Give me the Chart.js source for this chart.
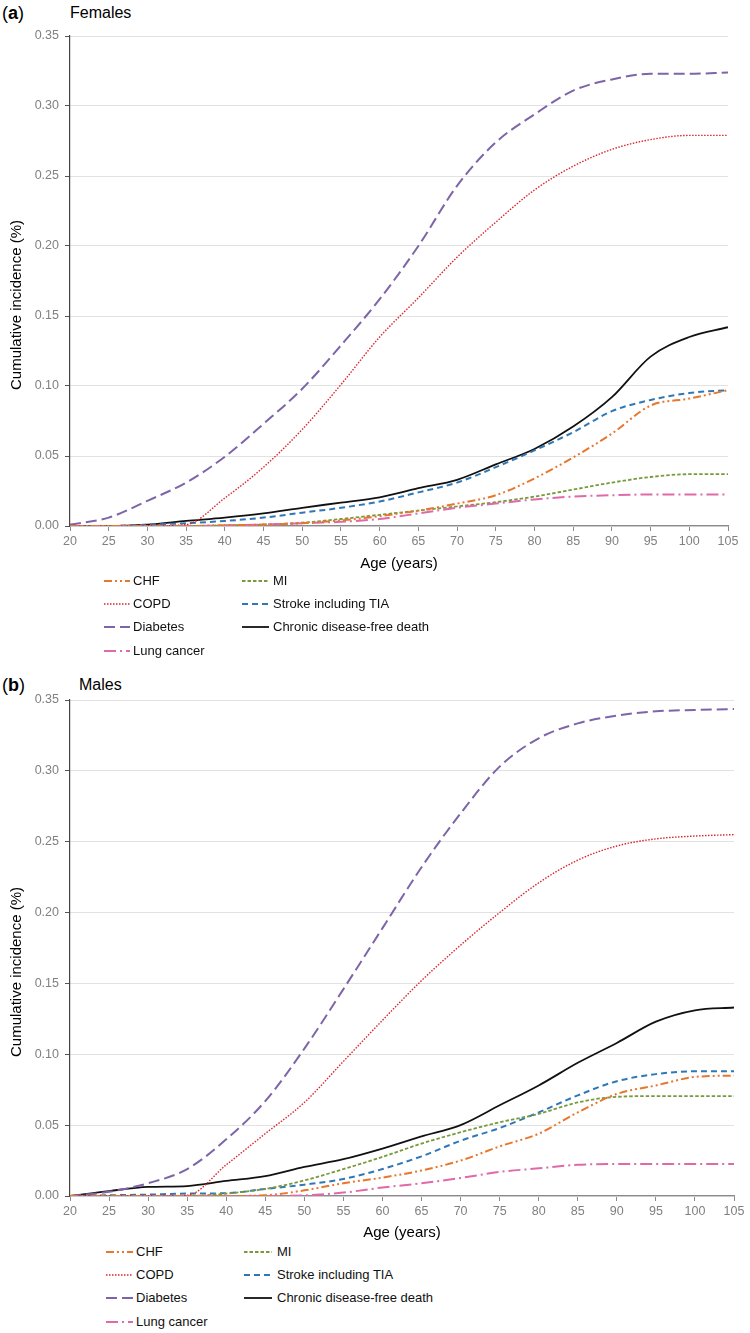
<!DOCTYPE html>
<html>
<head>
<meta charset="utf-8">
<script src="https://cdn.jsdelivr.net/npm/chart.js@4.4.1/dist/chart.umd.min.js"></script>
<style>
  body { margin: 0; background: #fff; font-family: "Liberation Sans", Arial, sans-serif; }
  #page { position: relative; width: 750px; height: 1333px; overflow: hidden; }
  canvas { position: absolute; left: 0; }
  .tag { position: absolute; left: 2px; font-size: 18px; line-height: 20px; color: #000; }
  .ptitle { position: absolute; font-size: 16px; line-height: 20px; color: #000; }
  .leg { position: absolute; font-size: 13px; line-height: 16px; color: #111; white-space: nowrap; }
  .legline { position: absolute; }
</style>
</head>
<body>
<div id="page">
  <div class="tag" style="top:3px">(<b>a</b>)</div>
  <div class="ptitle" style="top:3px; left:70px">Females</div>
  <canvas id="chartFemales"></canvas>
  <div class="tag" style="top:675px">(<b>b</b>)</div>
  <div class="ptitle" style="top:675px; left:79px">Males</div>
  <canvas id="chartMales"></canvas>
</div>
<script>
// age in years (x axis)
const ages = [20, 25, 30, 35, 40, 45, 50, 55, 60, 65, 70, 75, 80, 85, 90, 95, 100, 105];
const xTicks = [20, 25, 30, 35, 40, 45, 50, 55, 60, 65, 70, 75, 80, 85, 90, 95, 100, 105];
const yTicks = [0, 0.05, 0.10, 0.15, 0.20, 0.25, 0.30, 0.35];

const seriesNames = ['CHF', 'COPD', 'Diabetes', 'Lung cancer', 'MI', 'Stroke including TIA', 'Chronic disease-free death'];

// (a) Females
const femCHF      = [0, 0, 0, 0, 0.0005, 0.001, 0.002, 0.004, 0.007, 0.011, 0.016, 0.022, 0.034, 0.049, 0.066, 0.086, 0.091, 0.097];
const femCOPD     = [0, 0, 0, 0.001, 0.020, 0.042, 0.069, 0.101, 0.135, 0.163, 0.192, 0.217, 0.240, 0.257, 0.269, 0.276, 0.279, 0.279];
const femDiabetes = [0.001, 0.006, 0.018, 0.031, 0.0495, 0.073, 0.098, 0.129, 0.162, 0.200, 0.243, 0.274, 0.294, 0.311, 0.319, 0.323, 0.323, 0.324];
const femLung     = [0, 0, 0, 0, 0.0003, 0.001, 0.002, 0.003, 0.005, 0.009, 0.013, 0.016, 0.019, 0.021, 0.022, 0.0225, 0.0225, 0.0225];
const femMI       = [0, 0, 0, 0, 0.0005, 0.001, 0.0024, 0.005, 0.008, 0.011, 0.014, 0.017, 0.021, 0.026, 0.031, 0.035, 0.037, 0.037];
const femStroke   = [0, 0, 0.001, 0.002, 0.0036, 0.006, 0.0095, 0.013, 0.0175, 0.024, 0.031, 0.042, 0.054, 0.067, 0.082, 0.090, 0.095, 0.097];
const femDeath    = [0, 0, 0.001, 0.0036, 0.006, 0.009, 0.013, 0.0167, 0.0205, 0.027, 0.033, 0.044, 0.055, 0.071, 0.092, 0.121, 0.135, 0.142];

// (b) Males
const malCHF      = [0, 0, 0, 0, 0, 0.0005, 0.004, 0.009, 0.013, 0.018, 0.025, 0.035, 0.044, 0.059, 0.072, 0.078, 0.084, 0.085];
const malCOPD     = [0, 0, 0, 0.0005, 0.022, 0.044, 0.066, 0.095, 0.124, 0.152, 0.177, 0.200, 0.221, 0.237, 0.247, 0.252, 0.254, 0.255];
const malDiabetes = [0, 0.003, 0.009, 0.019, 0.040, 0.067, 0.104, 0.146, 0.189, 0.232, 0.270, 0.303, 0.323, 0.3335, 0.339, 0.342, 0.343, 0.3436];
const malLung     = [0, 0, 0, 0, 0, 0, 0.0005, 0.0024, 0.006, 0.009, 0.0127, 0.017, 0.0195, 0.022, 0.0225, 0.0225, 0.0225, 0.0225];
const malMI       = [0, 0, 0, 0, 0.0017, 0.005, 0.011, 0.019, 0.0276, 0.037, 0.045, 0.052, 0.058, 0.066, 0.070, 0.0705, 0.0705, 0.0705];
const malStroke   = [0, 0.0005, 0.001, 0.0017, 0.002, 0.005, 0.008, 0.012, 0.019, 0.028, 0.039, 0.048, 0.059, 0.071, 0.081, 0.086, 0.088, 0.088];
const malDeath    = [0, 0.0035, 0.0064, 0.007, 0.0106, 0.014, 0.0205, 0.026, 0.0335, 0.042, 0.050, 0.064, 0.078, 0.094, 0.108, 0.123, 0.131, 0.133];

const femalesSeries = [femCHF, femCOPD, femDiabetes, femLung, femMI, femStroke, femDeath];
const malesSeries = [malCHF, malCOPD, malDiabetes, malLung, malMI, malStroke, malDeath];

// line look for each series, same order as seriesNames
const lineColors = ['#E8772E', '#D9262E', '#7E65A8', '#E06AA8', '#779A3C', '#2F78B8', '#111111'];
const lineDashes = [[8, 3, 2, 3, 2, 3], [1.5, 1.5], [11, 5], [12, 4, 2, 4], [3.5, 2], [6, 4], []];
const lineWidths = [2, 1.4, 2, 2, 1.8, 2, 1.8];

const FONT = '"Liberation Sans", Arial, sans-serif';

const yTitlePlugin = {
    id: 'yTitle',
    afterDraw(chart) {
        const { ctx, chartArea } = chart;
        ctx.save();
        ctx.translate(17, (chartArea.top + chartArea.bottom) / 2 + 24);
        ctx.rotate(-Math.PI / 2);
        ctx.font = '15px ' + FONT;
        ctx.fillStyle = '#000';
        ctx.textAlign = 'center';
        ctx.textBaseline = 'middle';
        ctx.fillText('Cumulative incidence (%)', 0, 0);
        ctx.restore();
    }
};

function makePanel(canvasId, series, layout) {
    const canvas = document.getElementById(canvasId);
    canvas.width = 750;
    canvas.height = layout.canvasH;
    canvas.style.top = layout.canvasTop + 'px';
    canvas.style.width = '750px';
    canvas.style.height = layout.canvasH + 'px';

    const datasets = seriesNames.map((name, i) => ({
        label: name,
        data: ages.map((a, j) => ({ x: a, y: series[i][j] })),
        borderColor: lineColors[i],
        backgroundColor: lineColors[i],
        borderDash: lineDashes[i],
        borderWidth: lineWidths[i],
        pointRadius: 0,
        cubicInterpolationMode: 'monotone',
        fill: false
    }));

    new Chart(canvas.getContext('2d'), {
        type: 'line',
        data: { datasets },
        options: {
            responsive: false,
            animation: false,
            layout: { padding: { top: layout.areaTop - layout.canvasTop, right: 750 - layout.areaRight, left: 0, bottom: 0 } },
            plugins: { legend: { display: false }, tooltip: { enabled: false } },
            scales: {
                x: {
                    type: 'linear',
                    min: 20,
                    max: 105,
                    afterBuildTicks: (scale) => { scale.ticks = xTicks.map(v => ({ value: v })); },
                    afterFit: (scale) => { scale.height = layout.canvasTop + layout.canvasH - layout.areaBottom; },
                    grid: { drawOnChartArea: false, tickLength: 5, tickColor: '#8a8a8a' },
                    border: { color: '#8a8a8a', width: 1.2 },
                    ticks: { color: '#808080', font: { size: 12.5, family: FONT }, padding: 3, maxRotation: 0, autoSkip: false },
                    title: { display: true, text: 'Age (years)', color: '#000', font: { size: 15, family: FONT }, padding: { top: 0, bottom: 2 } }
                },
                y: {
                    min: 0,
                    max: 0.35,
                    afterBuildTicks: (scale) => { scale.ticks = yTicks.map(v => ({ value: v })); },
                    afterFit: (scale) => { scale.width = 70; },
                    grid: { color: '#e2e2e2', lineWidth: 1, tickLength: 5, tickColor: '#555' },
                    border: { color: '#444', width: 1.2 },
                    ticks: { color: '#808080', font: { size: 12.5, family: FONT }, padding: 6, callback: (v) => v.toFixed(2) }
                }
            }
        },
        plugins: [yTitlePlugin]
    });

    // legend, two columns like the original figure
    const page = document.getElementById('page');
    const columns = [[0, 1, 2, 3], [4, 5, 6]];
    columns.forEach((col, c) => {
        col.forEach((idx, r) => {
            const y = layout.legendRows[r];
            const pos = layout.legendCols[c];
            const svgNS = 'http://www.w3.org/2000/svg';
            const svg = document.createElementNS(svgNS, 'svg');
            svg.setAttribute('width', pos.len);
            svg.setAttribute('height', 6);
            svg.setAttribute('class', 'legline');
            svg.style.left = pos.line + 'px';
            svg.style.top = (y - 3) + 'px';
            const ln = document.createElementNS(svgNS, 'line');
            ln.setAttribute('x1', 0);
            ln.setAttribute('y1', 3);
            ln.setAttribute('x2', pos.len);
            ln.setAttribute('y2', 3);
            ln.setAttribute('stroke', lineColors[idx]);
            ln.setAttribute('stroke-width', lineWidths[idx]);
            if (lineDashes[idx].length) ln.setAttribute('stroke-dasharray', lineDashes[idx].join(' '));
            svg.appendChild(ln);
            page.appendChild(svg);

            const txt = document.createElement('div');
            txt.className = 'leg';
            txt.textContent = seriesNames[idx];
            txt.style.left = pos.text + 'px';
            txt.style.top = (y - 8) + 'px';
            page.appendChild(txt);
        });
    });
}

makePanel('chartFemales', femalesSeries, {
    canvasTop: 0, canvasH: 575, areaTop: 36, areaBottom: 526, areaRight: 728,
    legendRows: [581, 604, 627, 651],
    legendCols: [{ line: 104, len: 26, text: 133 }, { line: 242, len: 27, text: 273 }]
});

makePanel('chartMales', malesSeries, {
    canvasTop: 664, canvasH: 580, areaTop: 700, areaBottom: 1196, areaRight: 734,
    legendRows: [1252, 1275, 1298, 1322],
    legendCols: [{ line: 106, len: 27, text: 136 }, { line: 244, len: 28, text: 277 }]
});
</script>
</body>
</html>
